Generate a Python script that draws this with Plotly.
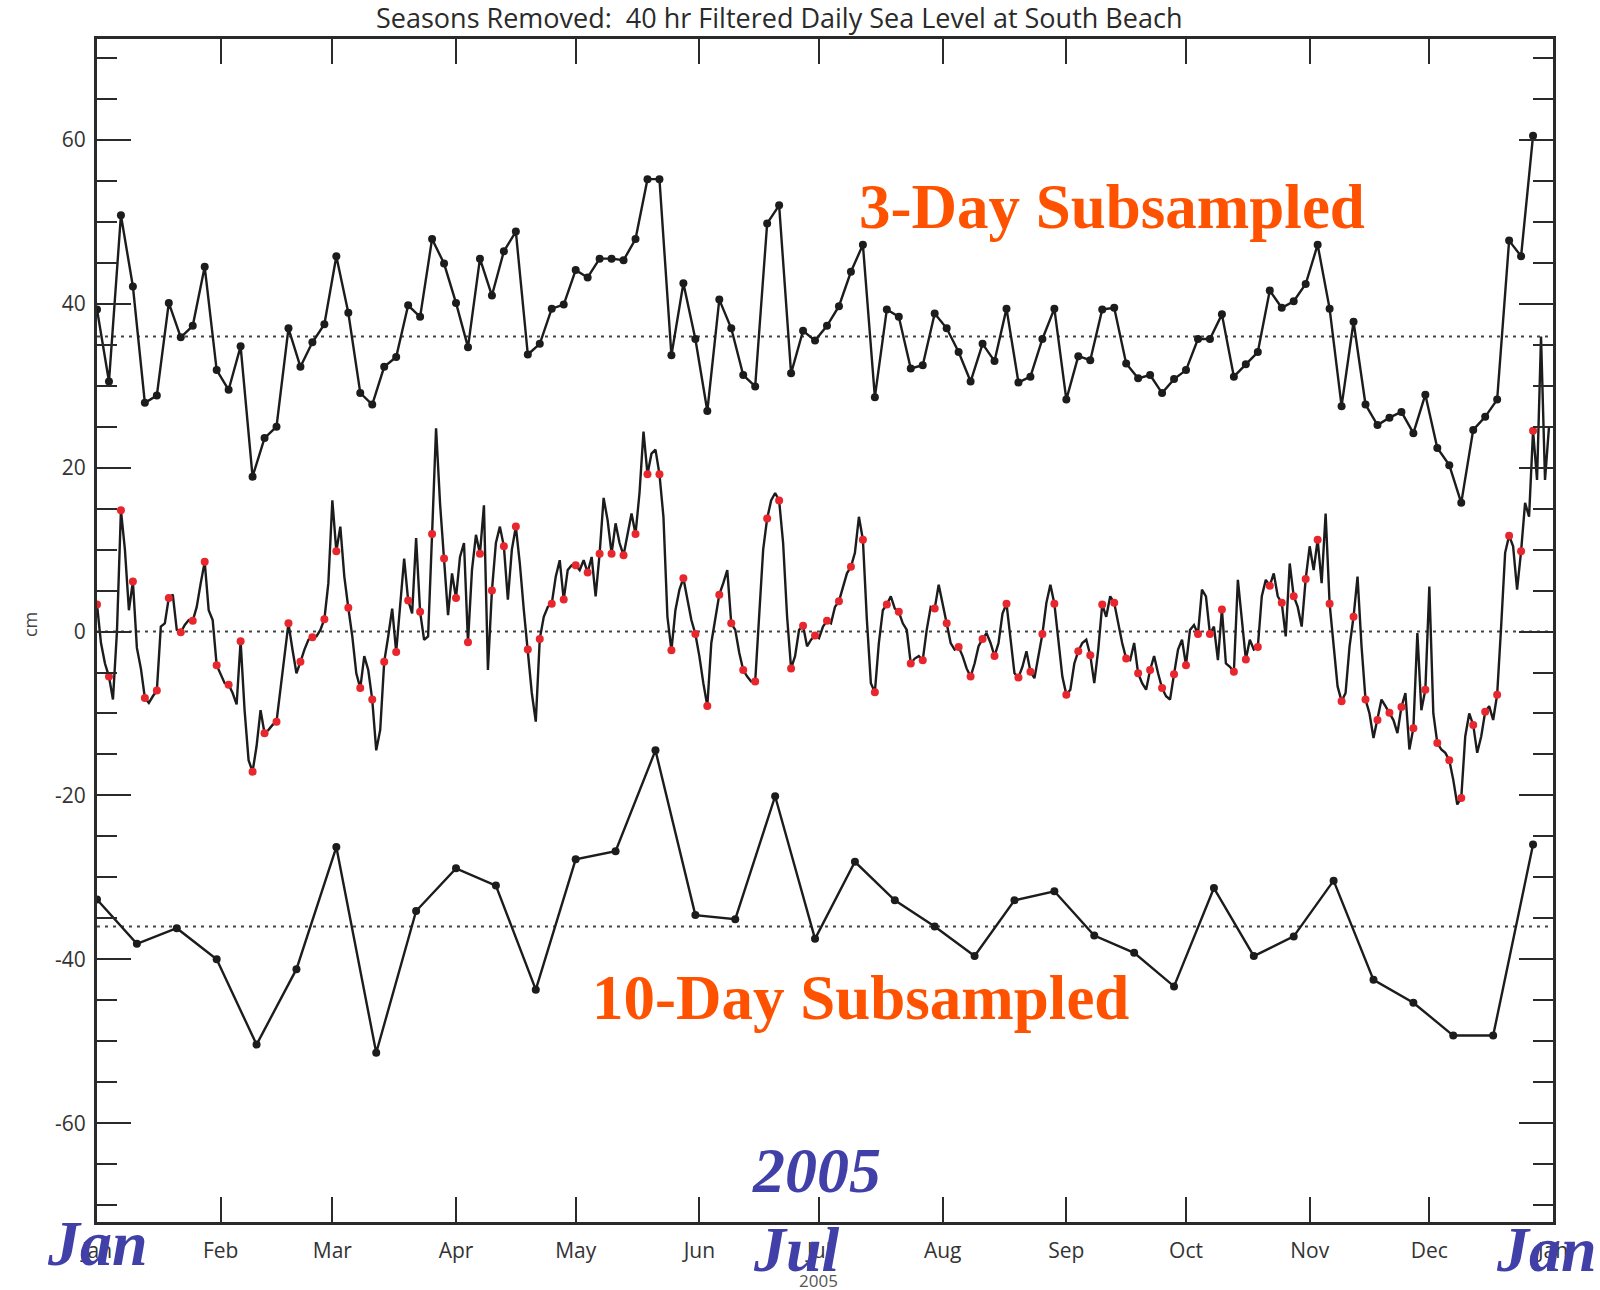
import datetime as dt
import plotly.graph_objects as go

# 40 hr filtered daily sea level anomaly at South Beach, 2005 (cm, seasons removed)
jan_cm = [3.3, -1.4, -3.9, -5.5, -8.3, 0.0, 14.8, 10.0, 2.6, 6.1, -2.0, -4.5, -8.1, -8.7, -7.9, -7.2,
          0.6, 1.0, 4.1, 4.5, 0.2, -0.1, 0.8, 1.4, 1.3, 3.0, 5.9, 8.5, 2.6, 1.4, -4.1]
feb_cm = [-5.1, -6.3, -6.5, -7.5, -8.9, -1.2, -9.6, -15.7, -17.1, -14.0, -9.6, -12.4, -12.0, -11.4,
          -11.0, -7.1, -3.0, 1.0, -2.2, -5.1, -3.7, -2.2, -1.0, -0.7, -0.6, 0.2, 1.5, 5.9]
mar_cm = [16.0, 9.8, 12.8, 6.7, 2.9, -0.6, -5.1, -6.9, -3.0, -4.7, -8.3, -14.5, -12.0, -3.7, -0.6,
          2.8, -2.5, 3.5, 8.9, 3.8, 2.2, 11.4, 2.4, -1.0, -0.6, 11.9, 24.8, 15.6, 8.9, 2.0, 7.1]
apr_cm = [4.1, 9.1, 10.8, -1.3, 7.5, 11.8, 9.5, 15.4, -4.7, 5.0, 10.8, 12.8, 10.4, 3.9, 10.0, 12.8,
          8.3, 2.6, -2.2, -7.5, -11.0, -0.9, 1.8, 3.0, 3.4, 6.7, 8.7, 3.9, 7.5, 8.1]
may_cm = [8.1, 7.5, 8.7, 7.2, 9.1, 4.3, 9.5, 16.3, 13.6, 9.5, 13.2, 10.8, 9.3, 12.0, 14.4, 11.9,
          16.9, 24.4, 19.2, 21.7, 22.2, 19.2, 14.0, 1.8, -2.3, 2.6, 5.1, 6.5, 3.9, 1.4, -0.3]
jun_cm = [-3.0, -6.3, -9.1, -1.4, 1.8, 4.5, 5.9, 7.5, 1.0, 0.2, -2.6, -4.7, -5.5, -6.1, -6.1, 2.6,
          10.0, 13.8, 16.0, 16.9, 16.0, 10.8, 1.8, -4.5, -3.0, 0.2, 0.7, -1.8, -1.0, -0.5]
jul_cm = [-0.8, 0.6, 1.3, 1.0, 3.0, 3.7, 5.5, 7.1, 7.9, 9.6, 14.0, 11.2, 1.4, -6.3, -7.4, -1.4,
          2.6, 3.3, 4.3, 2.8, 2.4, 1.0, 0.2, -3.9, -3.3, -3.0, -3.5, 0.2, 3.0, 2.8, 5.7]
aug_cm = [3.5, 1.0, -1.4, -2.2, -1.9, -3.0, -4.5, -5.5, -3.9, -1.8, -0.9, -0.2, -1.4, -3.0, -1.4,
          2.2, 3.4, -1.0, -5.1, -5.6, -4.3, -2.4, -4.9, -5.7, -3.0, -0.3, 3.5, 5.7, 3.4, -1.4, -5.5]
sep_cm = [-7.7, -7.1, -3.9, -2.4, -1.4, -1.0, -2.9, -6.3, -2.2, 3.3, 1.8, 4.3, 3.5, 1.0, -1.4,
          -3.3, -3.5, -1.4, -5.1, -6.3, -7.1, -4.7, -3.0, -5.1, -6.9, -7.9, -8.3, -5.2, -2.2, -1.0]
oct_cm = [-4.1, 0.2, 0.8, -0.3, 5.1, 4.3, -0.3, 0.6, -3.5, 2.7, -3.9, -4.3, -4.9, 6.3, 1.8, -3.4,
          -1.0, -2.2, -1.9, 4.3, 6.3, 5.6, 7.1, 4.3, 3.5, -0.6, 8.3, 4.3, 3.0, 0.6, 6.4]
nov_cm = [10.4, 7.5, 11.2, 5.9, 14.4, 3.4, -1.8, -6.7, -8.5, -7.5, -1.8, 1.8, 6.7, -1.8, -8.3,
          -10.0, -13.0, -10.8, -8.3, -9.1, -9.9, -10.8, -12.4, -9.2, -7.5, -14.4, -11.8, -0.2,
          -9.6, -7.1]
dec_cm = [5.5, -10.0, -13.6, -14.4, -14.8, -15.7, -18.1, -21.1, -20.3, -12.8, -10.0, -11.4, -14.8,
          -12.8, -9.8, -9.1, -10.8, -7.7, 0.6, 9.6, 11.7, 10.4, 5.1, 9.8, 15.7, 14.0, 24.5, 18.5,
          36.0, 18.5, 25.0]

# 10-day subsampled anomaly (cm)
ten_day_cm = [3.3, -2.1, -0.2, -4.0, -14.4, -5.2, 9.7, -15.4, 1.9, 7.1, 5.0, -7.7, 8.2, 9.2, 21.5,
              1.4, 0.9, 15.9, -1.5, 7.9, 3.2, 0.0, -3.6, 3.2, 4.3, -1.1, -3.2, -7.3, 4.7, -3.6,
              -1.2, 5.6, -6.5, -9.3, -13.3, -13.3, 10.0]

month_labels = ["Jan", "Feb", "Mar", "Apr", "May", "Jun", "Jul", "Aug", "Sep", "Oct", "Nov", "Dec", "Jan"]
y_tick_values = [-60, -40, -20, 0, 20, 40, 60]
y_tick_labels = ["-60", "-40", "-20", "0", "20", "40", "60"]

# vertical offsets that separate the three curves
OFFSET_3DAY = 36
OFFSET_10DAY = -36

daily_cm = (jan_cm + feb_cm + mar_cm + apr_cm + may_cm + jun_cm + jul_cm + aug_cm + sep_cm
            + oct_cm + nov_cm + dec_cm)

start = dt.date(2005, 1, 1)
daily_dates = [start + dt.timedelta(days=i) for i in range(len(daily_cm))]

three_idx = list(range(0, 361, 3))
three_dates = [daily_dates[i] for i in three_idx]
three_vals = [daily_cm[i] for i in three_idx]

ten_dates = [start + dt.timedelta(days=10 * k) for k in range(len(ten_day_cm))]

month_ticks = [dt.date(2005 + (m // 12), m % 12 + 1, 1) for m in range(13)]

INK = "#1c1c1c"
AXIS = "#2a2a2a"
ORANGE = "#FF5200"
BLUE = "#4040A8"

fig = go.Figure()

# 3-day subsampled, shifted up
fig.add_trace(go.Scatter(
    x=three_dates, y=[v + OFFSET_3DAY for v in three_vals], mode="lines+markers",
    line=dict(color=INK, width=2.4), marker=dict(color=INK, size=8), hoverinfo="skip"))

# daily series
fig.add_trace(go.Scatter(
    x=daily_dates, y=daily_cm, mode="lines",
    line=dict(color=INK, width=2.4), hoverinfo="skip"))

# samples taken every third day, marked on the daily curve
fig.add_trace(go.Scatter(
    x=three_dates, y=three_vals, mode="markers",
    marker=dict(color="#E8262E", size=8), hoverinfo="skip"))

# 10-day subsampled, shifted down
fig.add_trace(go.Scatter(
    x=ten_dates, y=[v + OFFSET_10DAY for v in ten_day_cm], mode="lines+markers",
    line=dict(color=INK, width=2.4), marker=dict(color=INK, size=8), hoverinfo="skip"))

# dotted reference levels for each curve
for level in (OFFSET_3DAY, 0, OFFSET_10DAY):
    fig.add_shape(type="line", xref="paper", x0=0, x1=1, yref="y", y0=level, y1=level,
                  line=dict(color="#444444", width=2, dash="3px,5px"), layer="below")

L, R, T, B = 97, 1553, 39, 1222
W, H = 1600, 1290


def px(xp, yp):
    return (xp - L) / (R - L), (B - yp) / (B - T)


def label(text, xp, yp, size, color, family, weight="normal", style="normal", angle=0):
    x, y = px(xp, yp)
    fig.add_annotation(x=x, y=y, xref="paper", yref="paper", text=text, showarrow=False,
                       xanchor="center", yanchor="middle", textangle=angle,
                       font=dict(size=size, color=color, family=family, weight=weight, style=style))


label("Seasons Removed:\u00a0 40 hr Filtered Daily Sea Level at South Beach", 779, 17, 27,
      "#2a2a2a", "Open Sans")
label("cm", 30, 625, 18, "#444444", "Open Sans", angle=-90)
label("2005", 818, 1280, 17, "#555555", "Open Sans")
label("3-Day Subsampled", 1112, 207, 63, ORANGE, "Liberation Serif", weight="bold")
label("10-Day Subsampled", 860, 998, 63, ORANGE, "Liberation Serif", weight="bold")
label("2005", 816, 1170, 64, BLUE, "Liberation Serif", weight="bold", style="italic")
label("Jan", 97, 1243, 64, BLUE, "Liberation Serif", weight="bold", style="italic")
label("Jul", 796, 1249, 64, BLUE, "Liberation Serif", weight="bold", style="italic")
label("Jan", 1546, 1249, 64, BLUE, "Liberation Serif", weight="bold", style="italic")

fig.update_layout(
    width=W, height=H,
    margin=dict(l=L, r=W - R, t=T, b=H - B, pad=0),
    paper_bgcolor="white", plot_bgcolor="white",
    showlegend=False,
    xaxis=dict(
        type="date", range=["2005-01-01", "2006-01-01"],
        tickmode="array", tickvals=month_ticks, ticktext=month_labels,
        ticks="inside", ticklen=25, tickwidth=2, tickcolor=AXIS,
        showline=True, linewidth=3, linecolor=AXIS, mirror="allticks",
        showgrid=False, zeroline=False, ticklabelstandoff=8,
        tickfont=dict(family="Open Sans", size=21, color="#333333")),
    yaxis=dict(
        range=[-72.05, 72.3],
        tickmode="array", tickvals=y_tick_values, ticktext=y_tick_labels,
        ticks="inside", ticklen=34, tickwidth=2, tickcolor=AXIS,
        minor=dict(dtick=5, ticks="inside", ticklen=20, tickwidth=2, tickcolor=AXIS, showgrid=False),
        showline=True, linewidth=3, linecolor=AXIS, mirror="allticks",
        showgrid=False, zeroline=False, ticklabelstandoff=4,
        tickfont=dict(family="Open Sans", size=21, color="#333333")),
)

fig.write_html("out.html")
